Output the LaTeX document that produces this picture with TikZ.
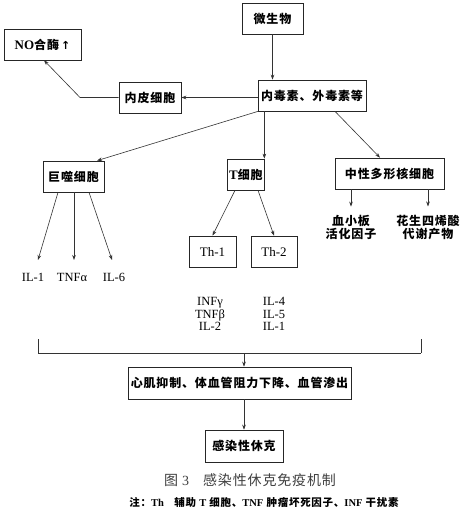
\documentclass[tikz,border=0pt]{standalone}
\usepackage{fontspec}
\setmainfont{Liberation Serif}
\newfontfamily\cjk{Noto Sans CJK SC}[LetterSpace=7]
\newfontfamily\cjkcap{Noto Sans CJK SC}[LetterSpace=6]
\newfontfamily\symf{DejaVu Sans}
\usetikzlibrary{arrows.meta}
\begin{document}
\begin{tikzpicture}[x=1pt,y=-1pt,
  box/.style={draw=black!85, line width=0.7pt, inner sep=0pt, minimum height=31pt,
              font=\cjk\bfseries\fontsize{12}{12}\selectfont},
  latbox/.style={box, font=\rmfamily\fontsize{13}{13}\selectfont},
  cjklbl/.style={inner xsep=0pt, inner ysep=8pt, align=center,
              font=\cjk\bfseries\fontsize{12}{13}\selectfont},
  lat/.style={inner sep=0pt, align=center, font=\rmfamily\fontsize{12.5}{12.5}\selectfont},
  line/.style={draw=black!80, line width=0.6pt},
  arr/.style={line, -{Stealth[length=5pt,width=3.6pt]}}]
\fill[white] (0,0) rectangle (465,513);
\useasboundingbox (0,0) rectangle (465,513);

% boxes
\node[box, minimum width=61pt] (mic) at (272.5,18.5) {微生物};
\node[box, minimum width=77pt] (nos) at (42.5,44.5) {{\rmfamily\bfseries\fontsize{13}{13}\selectfont NO}合酶\,{\symf\bfseries\fontsize{11}{11}\selectfont ↑}};
\node[box, minimum width=62pt] (endo) at (150,97.5) {内皮细胞};
\node[box, minimum width=108pt] (tox) at (312,95.5) {内毒素、外毒素等};
\node[box, minimum width=61pt] (mac) at (73.5,176.5) {巨噬细胞};
\node[box, minimum width=37pt] (tc) at (246,174.5) {{\rmfamily\bfseries\fontsize{13}{13}\selectfont T}细胞};
\node[box, minimum width=109pt] (neu) at (389.5,173.5) {中性多形核细胞};
\node[latbox, minimum width=47pt] (th1) at (212.5,251.5) {Th-1};
\node[latbox, minimum width=46pt] (th2) at (274,251.5) {Th-2};
\node[cjklbl] (pla) at (351,227) {血小板\\活化因子};
\node[cjklbl] (ara) at (428,227) {花生四烯酸\\代谢产物};
\node[lat] (il1) at (33,277) {IL-1};
\node[lat] (tnfa) at (72,277) {TNFα};
\node[lat] (il6) at (114,277) {IL-6};
\node[lat] (l1) at (210,314) {INFγ\\TNFβ\\IL-2};
\node[lat] (l2) at (274,314) {IL-4\\IL-5\\IL-1};
\node[box, minimum width=223pt, minimum height=32pt] (heart) at (239.5,383) {心肌抑制、体血管阻力下降、血管渗出};
\node[box, minimum width=78pt, minimum height=32pt] (shock) at (244,446) {感染性休克};
\node[inner sep=0pt, text=black!75, font=\cjkcap\fontsize{14}{14}\selectfont] (cap) at (250,480)
  {图\hspace{4pt}{\rmfamily 3}\hspace{14pt}感染性休克免疫机制};
\node[inner sep=0pt, font=\cjk\bfseries\fontsize{10.5}{10.5}\selectfont] (note) at (264,502)
  {注：{\rmfamily\bfseries Th}\quad 辅助 {\rmfamily\bfseries T} 细胞、{\rmfamily\bfseries TNF} 肿瘤坏死因子、{\rmfamily\bfseries INF} 干扰素};

% free ends
\coordinate (bend) at (80,97.5);
\coordinate (e1) at (38,260);
\coordinate (e2) at (74,260);
\coordinate (e3) at (112,260);
\coordinate (bL) at (38,339);
\coordinate (bR) at (421,339);
\coordinate (bM) at (244,353);

% connectors
\draw[arr] (mic.south) -- (mic.south |- tox.north);
\draw[arr] (tox.west |- endo.east) -- (endo.east);
\draw[arr] (endo.west) -- (bend) -- ([xshift=1.5pt]nos.south);
\draw[arr] ([xshift=-54pt]tox.south) -- ([xshift=23.5pt]mac.north);
\draw[arr] ([xshift=-0.5pt]tox.south -| tc.north east) -- ([xshift=-0.5pt]tc.north east);
\draw[arr] ([xshift=23pt]tox.south) -- ([xshift=-9.5pt]neu.north);
\draw[arr] ([xshift=-15.5pt]mac.south) -- (e1);
\draw[arr] ([xshift=0.5pt]mac.south) -- (e2);
\draw[arr] ([xshift=15.5pt]mac.south) -- (e3);
\draw[arr] ([xshift=-11pt]tc.south) -- (th1.north);
\draw[arr] ([xshift=12pt]tc.south) -- (th2.north);
\draw[arr] (neu.south -| pla.north) -- (pla.north);
\draw[arr] (neu.south -| ara.north) -- (ara.north);
\draw[line] (bL) -- (bL |- bM);
\draw[line] (bR) -- (bR |- bM);
\draw[line, line width=1pt] (bL |- bM) -- (bR |- bM);
\draw[arr] (bM) -- (heart.north -| bM);
\draw[arr] (heart.south -| shock.north) -- (shock.north);
\end{tikzpicture}
\end{document}
